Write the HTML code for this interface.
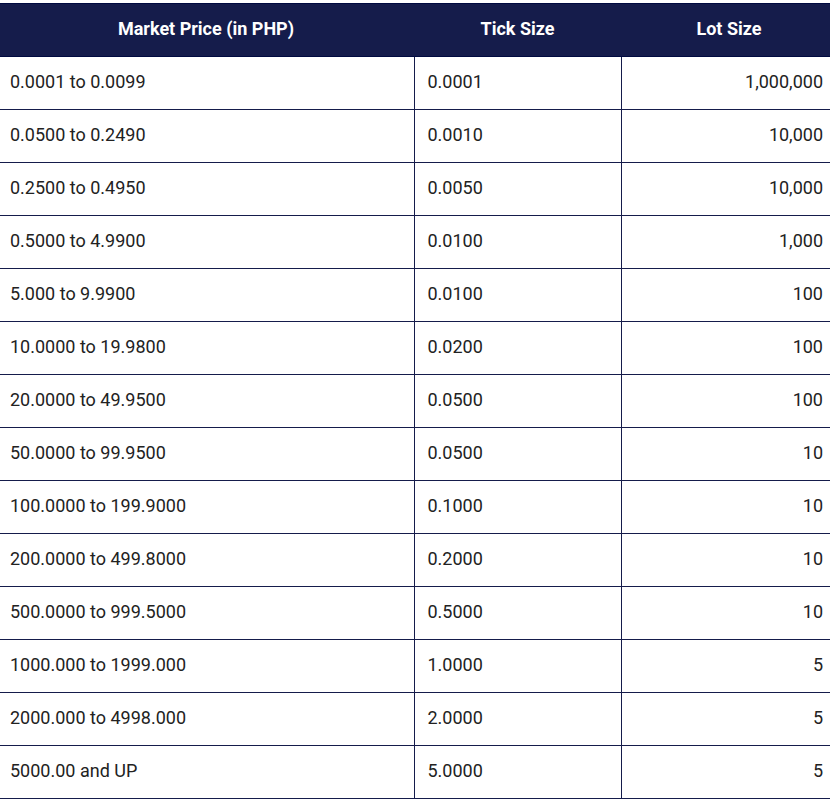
<!DOCTYPE html>
<html><head><meta charset="utf-8">
<style>
html,body{margin:0;padding:0;background:#fff;}
body{width:830px;height:800px;overflow:hidden;font-family:"Roboto","Liberation Sans",sans-serif;}
table{position:absolute;left:0;top:3px;width:830px;border-collapse:collapse;table-layout:fixed;}
th{background:#151c4b;color:#fff;font-weight:700;font-size:18px;height:48px;padding:0 0 4px 0;text-align:center;border-top:1px solid #000a40;border-bottom:1px solid #000a40;}
td{font-size:18px;color:#222;height:48px;padding:0 10px 4px 10px;border-bottom:1px solid #151c4b;}
td+td{border-left:1px solid #151c4b;}
td.r{text-align:right;padding-right:7px;}
td.m{padding-left:13px;}
th.l{padding-left:7px;}
th.f{padding-right:2px;}
col.c1{width:414px;}col.c2{width:207px;}col.c3{width:209px;}
</style></head><body>
<table>
<colgroup><col class="c1"><col class="c2"><col class="c3"></colgroup>
<thead><tr><th class="f">Market Price (in PHP)</th><th>Tick Size</th><th class="l">Lot Size</th></tr></thead>
<tbody>
<tr><td>0.0001 to 0.0099</td><td class="m">0.0001</td><td class="r">1,000,000</td></tr>
<tr><td>0.0500 to 0.2490</td><td class="m">0.0010</td><td class="r">10,000</td></tr>
<tr><td>0.2500 to 0.4950</td><td class="m">0.0050</td><td class="r">10,000</td></tr>
<tr><td>0.5000 to 4.9900</td><td class="m">0.0100</td><td class="r">1,000</td></tr>
<tr><td>5.000 to 9.9900</td><td class="m">0.0100</td><td class="r">100</td></tr>
<tr><td>10.0000 to 19.9800</td><td class="m">0.0200</td><td class="r">100</td></tr>
<tr><td>20.0000 to 49.9500</td><td class="m">0.0500</td><td class="r">100</td></tr>
<tr><td>50.0000 to 99.9500</td><td class="m">0.0500</td><td class="r">10</td></tr>
<tr><td>100.0000 to 199.9000</td><td class="m">0.1000</td><td class="r">10</td></tr>
<tr><td>200.0000 to 499.8000</td><td class="m">0.2000</td><td class="r">10</td></tr>
<tr><td>500.0000 to 999.5000</td><td class="m">0.5000</td><td class="r">10</td></tr>
<tr><td>1000.000 to 1999.000</td><td class="m">1.0000</td><td class="r">5</td></tr>
<tr><td>2000.000 to 4998.000</td><td class="m">2.0000</td><td class="r">5</td></tr>
<tr><td>5000.00 and UP</td><td class="m">5.0000</td><td class="r">5</td></tr>
</tbody></table>
</body></html>
